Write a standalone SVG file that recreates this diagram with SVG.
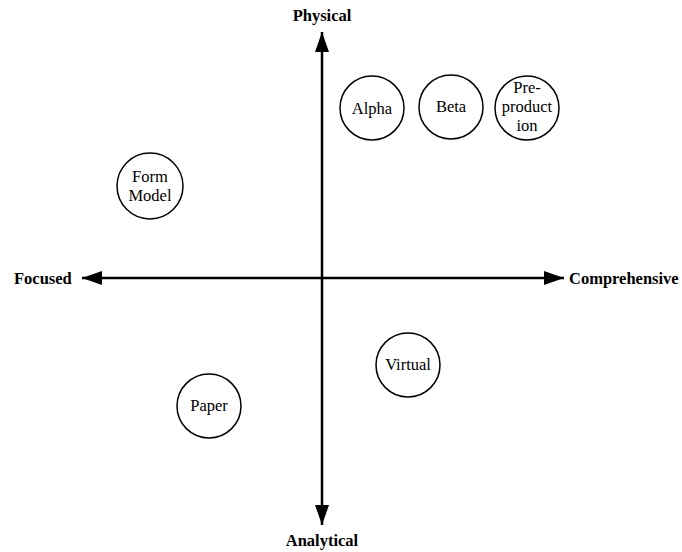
<svg xmlns="http://www.w3.org/2000/svg" width="682" height="552" viewBox="0 0 682 552">
  <style>
    .axis { stroke: #000; stroke-width: 2.5; fill: none; }
    .axislabel { font-family: "Liberation Serif", "Times New Roman", serif; font-weight: bold; font-size: 16.5px; fill: #000; }
    .node circle { fill: #fff; stroke: #000; stroke-width: 1.5; }
    .node text { font-family: "Liberation Serif", "Times New Roman", serif; font-size: 16.5px; fill: #000; text-anchor: middle; }
  </style>
  <defs>
    <marker id="head" viewBox="0 0 20 14" refX="20" refY="7" markerUnits="userSpaceOnUse" markerWidth="20" markerHeight="14" orient="auto">
      <path d="M0,0 L20,7 L0,14 Z" fill="#000"/>
    </marker>
  </defs>
  <rect width="682" height="552" fill="#fff"/>

  <!-- axes -->
  <g id="connectors">
    <line class="axis" x1="322" y1="279" x2="322" y2="32" marker-end="url(#head)"/>
    <line class="axis" x1="322" y1="279" x2="322" y2="525" marker-end="url(#head)"/>
    <line class="axis" x1="322" y1="278" x2="82" y2="278" marker-end="url(#head)"/>
    <line class="axis" x1="322" y1="278" x2="564" y2="278" marker-end="url(#head)"/>
  </g>

  <!-- axis labels -->
  <text class="axislabel" x="322" y="21" text-anchor="middle">Physical</text>
  <text class="axislabel" x="322" y="546" text-anchor="middle">Analytical</text>
  <text class="axislabel" x="14" y="284">Focused</text>
  <text class="axislabel" x="569" y="284">Comprehensive</text>

  <!-- nodes -->
  <g id="alpha" class="node">
    <circle cx="372" cy="108" r="32"/>
    <text x="372" y="114">Alpha</text>
  </g>
  <g id="beta" class="node">
    <circle cx="451" cy="107" r="32"/>
    <text x="451" y="112">Beta</text>
  </g>
  <g id="preproduction" class="node">
    <circle cx="527" cy="108" r="32"/>
    <text x="527" y="93">Pre-</text>
    <text x="527" y="112">product</text>
    <text x="527" y="131">ion</text>
  </g>
  <g id="formmodel" class="node">
    <circle cx="150" cy="186" r="33"/>
    <text x="150" y="182">Form</text>
    <text x="150" y="201">Model</text>
  </g>
  <g id="virtual" class="node">
    <circle cx="408" cy="365" r="32"/>
    <text x="408" y="370">Virtual</text>
  </g>
  <g id="paper" class="node">
    <circle cx="209" cy="406" r="32"/>
    <text x="209" y="411">Paper</text>
  </g>
</svg>
